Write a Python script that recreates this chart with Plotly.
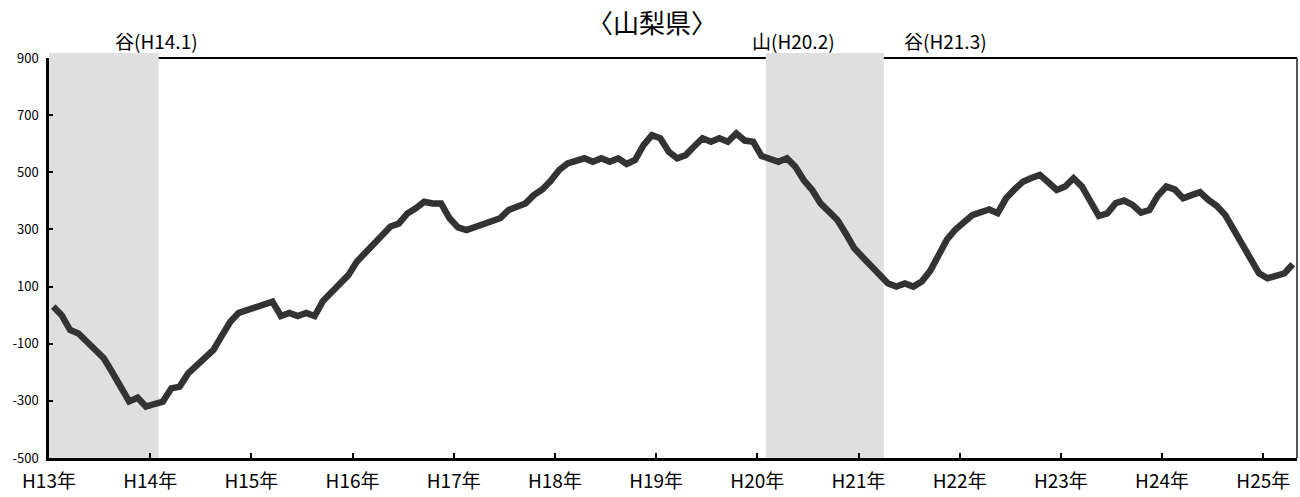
import plotly.graph_objects as go

# Monthly values, H13.1 (Jan 2001) .. H25.4 (Apr 2013)
values = [
    30, 0, -52, -64, -93, -122, -151, -200, -250, -302, -289, -320,
    -311, -303, -256, -250, -204, -175, -145, -122, -72, -23, 8, 18,
    28, 38, 47, -3, 8, -3, 8, -3, 50, 80, 110, 140,
    187, 218, 248, 280, 310, 321, 356, 374, 397, 391, 391, 339,
    307, 298, 308, 318, 328, 339, 368, 380, 391, 420, 440, 470,
    508, 531, 540, 549, 537, 549, 537, 549, 529, 543, 595, 630,
    619, 572, 549, 560, 590, 619, 607, 619, 607, 636, 611, 607,
    557, 545, 537, 549, 520, 473, 438, 391, 362, 333, 285, 234,
    203, 172, 135, 111, 100, 111, 100, 118, 155, 210, 265, 300,
    328, 350, 360, 370, 357, 409, 440, 467, 480, 491, 465, 438,
    450, 479, 450, 400, 347, 356, 392, 401, 386, 359, 368, 418,
    450, 440, 409, 420, 430, 403, 382, 350, 300, 248, 196, 146,
    129, 137, 146, 178,
]
months = list(range(len(values)))

year_labels = ["H13年", "H14年", "H15年", "H16年", "H17年", "H18年", "H19年",
               "H20年", "H21年", "H22年", "H23年", "H24年", "H25年"]
y_ticks = [-500, -300, -100, 100, 300, 500, 700, 900]

# recession periods (month index start, end inclusive)
recessions = [(0, 12), (85, 98)]
turning_labels = ["谷(H14.1)", "山(H20.2)", "谷(H21.3)"]
turning_label_x = [12.2, 87.8, 105.8]

FONT = "Noto Sans CJK JP"

fig = go.Figure()
fig.add_trace(go.Scatter(
    x=months, y=values, mode="lines",
    line=dict(color="#333333", width=6.5),
    hoverinfo="skip", showlegend=False,
))

x_min, x_max = -0.5, len(values) - 0.5

shapes = []
for s, e in recessions:
    shapes.append(dict(type="rect", xref="x", yref="paper",
                       x0=s - 0.5, x1=e + 0.5, y0=0, y1=1.0125,
                       fillcolor="#dfdfdf", line=dict(width=0), layer="below"))
# top border, hidden where shading is
edges = [x_min]
for s, e in recessions:
    edges += [s - 0.5, e + 0.5]
edges.append(x_max)
for a, b in zip(edges[0::2], edges[1::2]):
    if b > a:
        shapes.append(dict(type="line", xref="x", yref="paper",
                           x0=a, x1=b, y0=1, y1=1,
                           line=dict(color="black", width=2.2)))
# right border
shapes.append(dict(type="line", xref="paper", yref="paper",
                   x0=1, x1=1, y0=0, y1=1,
                   line=dict(color="#555555", width=2)))

annotations = [dict(text="〈山梨県〉", xref="paper", yref="paper",
                    x=0.483, y=1.09, xanchor="center", yanchor="middle",
                    showarrow=False, font=dict(family=FONT, size=26, color="black"))]
for t, xv in zip(turning_labels, turning_label_x):
    annotations.append(dict(text=t, xref="x", yref="paper", x=xv, y=1.045,
                            xanchor="center", yanchor="middle", showarrow=False,
                            font=dict(family=FONT, size=19, color="black")))

fig.update_layout(
    width=1300, height=497,
    margin=dict(l=49, r=3, t=58, b=39, autoexpand=False),
    paper_bgcolor="white", plot_bgcolor="white",
    shapes=shapes, annotations=annotations,
    hovermode=False,
    xaxis=dict(range=[x_min, x_max],
               tickvals=[-0.5 + 12 * k for k in range(len(year_labels))],
               ticktext=year_labels,
               ticks="inside", ticklen=5, tickwidth=2, tickcolor="black",
               showline=True, linecolor="black", linewidth=2.5,
               showgrid=False, zeroline=False, automargin=False,
               ticklabelstandoff=4,
               tickfont=dict(family=FONT, size=19, color="black")),
    yaxis=dict(range=[-500, 900], tickvals=y_ticks,
               ticktext=[str(v) for v in y_ticks],
               ticks="inside", ticklen=4, tickwidth=2, tickcolor="black",
               showline=True, linecolor="black", linewidth=2.5,
               showgrid=False, zeroline=False, ticklabelstandoff=5,
               automargin=False,
               tickfont=dict(family=FONT, size=13, color="black")),
)

fig.write_html("out.html", config={"displayModeBar": False},
               post_script="document.body.style.margin='0';")
